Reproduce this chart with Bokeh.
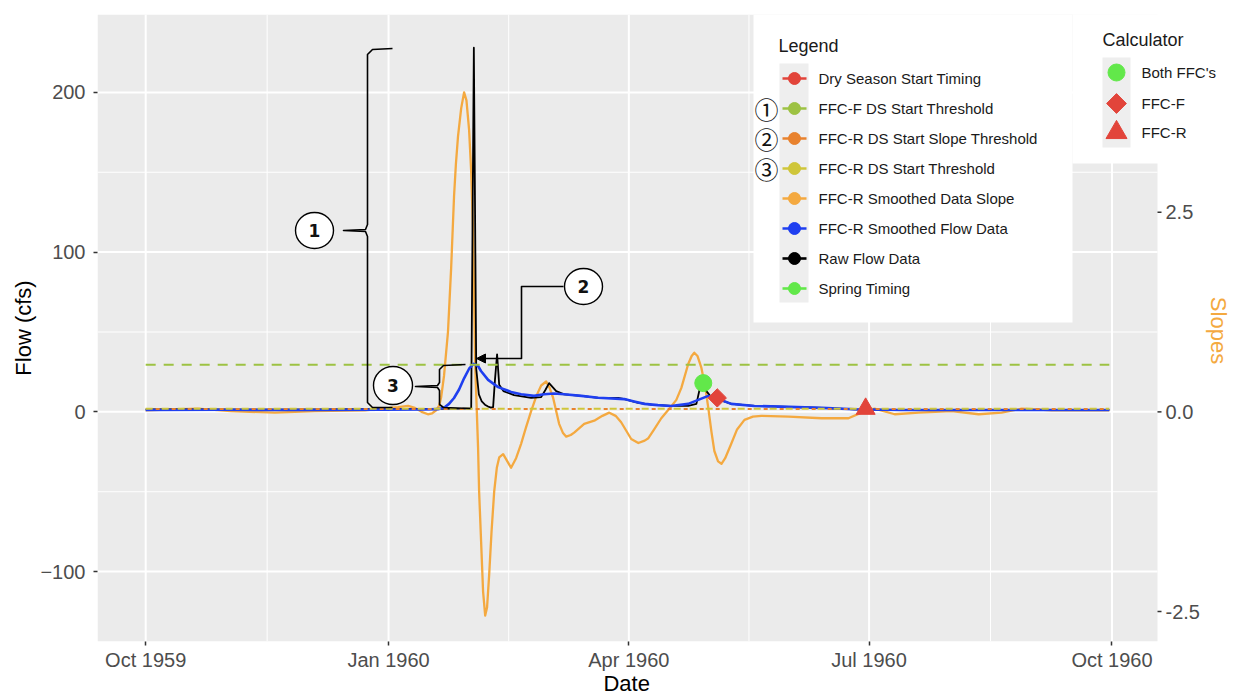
import pandas as pd
from bokeh.plotting import figure
from bokeh.models import (Range1d, FixedTicker, Label, DatetimeTickFormatter)
from bokeh.core.properties import value
from bokeh.embed import file_html
from bokeh.resources import INLINE

# ---------------- data ----------------
START = "1959-10-01"                     # day 0 of the water year
x_tick_dates = ["1959-10-01", "1960-01-01", "1960-04-01", "1960-07-01", "1960-10-01"]
x_tick_labels = ["Oct 1959", "Jan 1960", "Apr 1960", "Jul 1960", "Oct 1960"]
flow_ticks = [-100, 0, 100, 200]
flow_minor = [-50, 50, 150]
slope_ticks = [-2.5, 0.0, 2.5]

# Raw flow data (days after 1959-10-01, cfs)
raw_day = [0, 20, 45, 70, 95, 110, 120, 123.3, 124.3, 125.2, 126.2, 127.3, 128.5, 129.7,
           130.8, 131.6, 132.3, 133.1, 133.9, 135.5, 139.5, 146, 149.8, 151.5, 152.8,
           155.5, 158.5, 165, 171.4, 179, 181.3, 186.6, 191.5, 199, 205.5, 208.6, 209.8,
           211.2, 212.4, 213.8, 216, 221.8, 230.6, 243.5, 256, 268.5, 280, 310, 340, 365]
raw_flow = [1.5, 1.6, 1.4, 1.5, 1.8, 1.9, 2.0, 2.2, 228, 27, 11, 6.5, 4.5, 3.3,
            2.6, 3.0, 20, 36, 17, 13, 10.5, 8.8, 9.2, 14, 18,
            13, 11, 10, 8.8, 8.7, 8, 5.6, 4.5, 3.8, 3.7, 5, 14,
            18, 13, 10, 8.5, 5, 3.7, 3.1, 2.5, 1.6, 1.3, 1.2, 1.2, 1.2]

# FFC-R smoothed flow data
smooth_day = [0, 30, 60, 90, 105, 110.7, 113, 114.9, 116.8, 118.7, 120.6, 122.5, 124.2,
              125.9, 127, 129.7, 133.5, 138.4, 142.2, 147.1, 150.9, 154.7, 158.5, 165,
              171.4, 181.3, 185, 188.9, 194, 199, 205.5, 209.3, 213.1, 216.9, 221.8,
              230.6, 243.5, 256, 268.5, 286, 320, 365]
smooth_flow = [1.2, 1.3, 1.2, 1.4, 1.5, 1.7, 2.6, 5, 8.7, 14, 21, 27, 30,
               28.7, 25.6, 20, 15.5, 12.5, 11, 10, 11, 11.5, 11, 10,
               8.8, 8, 6.5, 5, 4.2, 3.7, 5, 7.5, 10, 8, 5,
               3.7, 3.1, 2.5, 1.6, 1.2, 1.2, 1.2]

# FFC-R smoothed data slope (secondary axis)
slope_day = [0, 19.7, 32.2, 48.9, 64.1, 83, 95.6, 99.4, 102, 104.5, 106.9, 108.5, 110,
             111.2, 111.9, 113, 114.5, 115.7, 116.8, 117.5, 118.3, 119.5, 120.6, 121.5,
             122.5, 123.3, 124, 124.8, 125.9, 126.3, 127.8, 128.6, 129.3, 130.1, 131, 132,
             133, 133.9, 135.4, 137, 138.4, 140.3, 142.2, 144, 146, 148, 149.8, 151.7, 153,
             154.3, 156.6, 158, 159.3, 161, 162.3, 166.1, 169.9, 173, 175.6, 178, 180.1,
             183.9, 186.6, 189, 190.4, 192.6, 195.3, 199.1, 201, 202.9, 205.5, 206.8,
             207.8, 209, 210.5, 212, 213.1, 214.3, 215.4, 216.8, 218.1, 219.5, 221.8,
             224, 226.8, 230, 233.2, 243.5, 256, 266.2, 271.1, 276.1, 283.7, 292.8,
             305.3, 315.5, 324.2, 331.8, 343.2, 365]
slope_val = [0.02, 0.04, 0.01, -0.01, 0.01, 0.02, 0.06, 0.075, 0.05, 0.0, -0.03, -0.02, 0.02,
             0.08, 0.18, 0.45, 1.0, 1.8, 2.7, 3.1, 3.45, 3.8, 4.0, 3.9,
             3.53, 3.0, 2.27, 0.6, -0.45, -1.0, -2.25, -2.55, -2.45, -2.04, -1.5, -1.0,
             -0.7, -0.57, -0.53, -0.62, -0.7, -0.58, -0.4, -0.2, 0.01, 0.2, 0.33, 0.38, 0.3,
             0.18, -0.15, -0.26, -0.31, -0.29, -0.26, -0.15, -0.11, -0.05, -0.01, -0.05, -0.13,
             -0.34, -0.39, -0.36, -0.33, -0.22, -0.08, 0.07, 0.15, 0.3, 0.6, 0.7,
             0.74, 0.7, 0.55, 0.3, 0.05, -0.25, -0.49, -0.62, -0.65, -0.58, -0.4,
             -0.22, -0.1, -0.06, -0.05, -0.06, -0.08, -0.08, -0.01, 0.04, -0.03, -0.01,
             0.01, -0.03, -0.01, 0.04, 0.02, 0.02]

threshold_day = [0, 365]
ffc_f_threshold = [29.5, 29.5]          # flow
ffc_r_threshold = [1.9, 1.9]            # flow
ffc_r_slope_threshold = [0.035, 0.035]  # slope

spring_day, spring_flow = [211.2], [18.0]     # Both FFC's
ffcf_day, ffcf_flow = [216.5], [8.75]         # FFC-F dry season start
ffcr_day, ffcr_flow = [272.7], [1.9]          # FFC-R dry season start

legend_labels = ["Dry Season Start Timing", "FFC-F DS Start Threshold",
                 "FFC-R DS Start Slope Threshold", "FFC-R DS Start Threshold",
                 "FFC-R Smoothed Data Slope", "FFC-R Smoothed Flow Data",
                 "Raw Flow Data", "Spring Timing"]
legend_colors = ["#E2443A", "#9DC243", "#E8822E", "#CFC63A",
                 "#F4A940", "#1F3FF0", "#000000", "#62E84A"]
calc_labels = ["Both FFC's", "FFC-F", "FFC-R"]

# ---------------- layout constants ----------------
t0 = pd.Timestamp(START)
def to_dt(days):
    return [t0 + pd.Timedelta(days=d) for d in days]

FONT = "Liberation Sans"
RED = "#E2443A"
GREEN = "#62E84A"
ORANGE = "#F4A940"
W, H = 1241, 698
FRAME_L, FRAME_T, FRAME_B = 97, 14, 641
PANEL_R = 1157                      # right edge of the grey panel
X_LO, X_HI = -18.25, 383.25         # panel x-extent in days (ggplot 5% expansion)
DAYS_PER_PX = (X_HI - X_LO) / (PANEL_R - FRAME_L)
Y0, Y1 = -143.75, 248.75
SLOPE_RATIO = 50.0

x_start = t0 + pd.Timedelta(days=X_LO)
x_end = t0 + pd.Timedelta(days=X_LO + (W - FRAME_L) * DAYS_PER_PX)
panel_end = t0 + pd.Timedelta(days=X_HI)

p = figure(width=W, height=H, x_axis_type="datetime",
           x_range=Range1d(x_start, x_end), y_range=Range1d(Y0, Y1),
           toolbar_location=None, output_backend="svg",
           min_border_left=FRAME_L, min_border_right=0, min_border_top=FRAME_T,
           min_border_bottom=H - FRAME_B)
p.extra_y_ranges = {"slope": Range1d(Y0 / SLOPE_RATIO, Y1 / SLOPE_RATIO),
                    "px": Range1d(FRAME_B, FRAME_T)}
p.extra_x_ranges = {"px": Range1d(FRAME_L, W)}
p.background_fill_color = "white"
p.border_fill_color = "white"
p.outline_line_color = None
p.grid.visible = False

PX = dict(x_range_name="px", y_range_name="px")

# ---- axes (bottom and left are Bokeh axes) ----
tick_ms = [pd.Timestamp(d).value / 1e6 for d in x_tick_dates]
xa = p.xaxis[0]
xa.ticker = FixedTicker(ticks=tick_ms)
xa.bounds = (x_start, panel_end)
fmt = "%b %Y"
xa.formatter = DatetimeTickFormatter(microseconds=fmt, milliseconds=fmt, seconds=fmt,
                                     minsec=fmt, minutes=fmt, hourmin=fmt, hours=fmt,
                                     days=fmt, months=fmt, years=fmt)
ya = p.yaxis[0]
ya.ticker = FixedTicker(ticks=flow_ticks)

for ax in (xa, ya):
    ax.axis_line_color = None
    ax.major_tick_line_color = "#333333"
    ax.major_tick_line_width = 1.5
    ax.major_tick_out = 4
    ax.major_tick_in = 0
    ax.minor_tick_line_color = None
    ax.major_label_text_font = FONT
    ax.major_label_text_font_size = "20px"
    ax.major_label_text_color = "#4D4D4D"
    ax.axis_label_text_font = FONT
    ax.axis_label_text_font_style = "normal"
    ax.axis_label_text_font_size = "22px"
    ax.axis_label_text_color = "#000000"

# the frame runs to the canvas edge, so pad the title with no-break spaces
# to centre it under the grey panel instead of under the whole frame
xa.axis_label = "Date" + "\u00a0" * 14
xa.major_label_standoff = 3
xa.axis_label_standoff = -3
ya.axis_label = "Flow (cfs)"
ya.major_label_standoff = 8
ya.axis_label_standoff = 1

# ---- grey panel and its grid ----
p.quad(left=[x_start], right=[panel_end], bottom=[Y0], top=[Y1],
       fill_color="#EBEBEB", line_color=None)
major_dates = list(pd.to_datetime(x_tick_dates))
minor_dates = [a + (b - a) / 2 for a, b in zip(major_dates[:-1], major_dates[1:])]
p.segment(x0=minor_dates, x1=minor_dates, y0=[Y0] * len(minor_dates),
          y1=[Y1] * len(minor_dates), line_color="white", line_width=1)
p.segment(x0=[x_start] * len(flow_minor), x1=[panel_end] * len(flow_minor),
          y0=flow_minor, y1=flow_minor, line_color="white", line_width=1)
p.segment(x0=major_dates, x1=major_dates, y0=[Y0] * len(major_dates),
          y1=[Y1] * len(major_dates), line_color="white", line_width=2)
p.segment(x0=[x_start] * len(flow_ticks), x1=[panel_end] * len(flow_ticks),
          y0=flow_ticks, y1=flow_ticks, line_color="white", line_width=2)

# ---- secondary (slope) axis at the panel's right edge ----
p.segment(x0=[PANEL_R] * len(slope_ticks), x1=[PANEL_R + 4] * len(slope_ticks),
          y0=slope_ticks, y1=slope_ticks, line_color="#333333", line_width=1.5,
          x_range_name="px", y_range_name="slope")
p.text(x=[PANEL_R + 8] * len(slope_ticks), y=slope_ticks,
       text=["%.1f" % v for v in slope_ticks], x_range_name="px", y_range_name="slope",
       text_font=value(FONT), text_font_size=value("20px"), text_color="#4D4D4D",
       text_align="left", text_baseline="middle")
p.add_layout(Label(x=1218, y=330, text="Slopes", angle=-1.5707963, text_align="center",
                   text_baseline="middle", text_font=FONT, text_font_size="22px",
                   text_color=ORANGE, **PX))

# ---- data lines ----
p.line(to_dt(slope_day), slope_val, y_range_name="slope", line_color=ORANGE,
       line_width=2.3, line_join="round")
p.line(to_dt(raw_day), raw_flow, line_color="black", line_width=1.8, line_join="round")
p.line(to_dt(smooth_day), smooth_flow, line_color="#1F3FF0", line_width=2.6,
       line_join="round")
p.line(to_dt(threshold_day), ffc_f_threshold, line_color="#9DC243", line_width=2,
       line_dash="10 8")
p.line(to_dt(threshold_day), ffc_r_threshold, line_color="#CFC63A", line_width=2,
       line_dash="7 9")
p.line(to_dt(threshold_day), ffc_r_slope_threshold, y_range_name="slope",
       line_color="#E8822E", line_width=2, line_dash="4 12", line_dash_offset=-10)

# ---- timing points ----
p.scatter(to_dt(spring_day), spring_flow, marker="circle", size=17, color=GREEN)
p.scatter(to_dt(ffcf_day), ffcf_flow, marker="square", angle=0.785398, size=13, color=RED)
p.scatter(to_dt(ffcr_day), ffcr_flow, marker="triangle", size=19, color=RED)

# ---------------- annotations (screen-pixel geometry) ----------------
ann = dict(line_color="black", line_width=1.6, line_join="round")
# brace 1
p.line([392, 372, 367, 367, 365, 343, 365, 367, 367, 372, 392],
       [48, 49, 54, 224, 229, 230, 231, 236, 402, 407, 407], **ann, **PX)
# brace 3
p.line([465, 443, 439, 439, 437, 415, 437, 439, 439, 443, 470],
       [364, 365, 369, 382, 385, 386, 387, 390, 404, 407, 408], **ann, **PX)
# connector 2 with arrow
p.line([563, 521, 521, 484], [286, 286, 358, 358], **ann, **PX)
p.patch([476, 485, 485], [358, 353.5, 362.5], fill_color="black", line_color="black", **PX)
# numbered circles
p.ellipse(x=[314, 583, 392.5], y=[230, 286, 385], width=[38, 38, 39], height=[36, 36, 38],
          fill_color="white", line_color="black", line_width=1.4, **PX)
for n, (cx, cy) in zip(["1", "2", "3"], [(314, 230), (583, 286), (392.5, 385)]):
    p.add_layout(Label(x=cx, y=cy, text=n, text_align="center", text_baseline="middle",
                       text_font="DejaVu Sans", text_font_size="17px",
                       text_font_style="bold", text_color="#111111", **PX))

# ---------------- legend boxes ----------------
p.quad(left=753, right=1072, top=14, bottom=322, fill_color="white", line_color=None, **PX)
p.quad(left=1072, right=1241, top=0, bottom=163, fill_color="white", line_color=None, **PX)
p.quad(left=779, right=808, top=63, bottom=302, fill_color="#EEEEEE", line_color=None, **PX)
p.quad(left=1102, right=1130, top=57, bottom=147, fill_color="#EEEEEE", line_color=None, **PX)

item_y = [78 + 30 * i for i in range(len(legend_labels))]
p.segment(x0=[782] * len(item_y), y0=item_y, x1=[806] * len(item_y), y1=item_y,
          line_color=legend_colors, line_width=2.6, **PX)
p.scatter(x=[794] * len(item_y), y=item_y, size=12, color=legend_colors, **PX)

p.add_layout(Label(x=778, y=45, text="Legend", text_baseline="middle",
                   text_font=FONT, text_font_size="18px", text_color="#1A1A1A", **PX))
for lab, yy in zip(legend_labels, item_y):
    p.add_layout(Label(x=818, y=yy, text=lab, text_baseline="middle",
                       text_font=FONT, text_font_size="15px", text_color="#1A1A1A", **PX))
for sym, yy in zip(["①", "②", "③"], item_y[1:4]):
    p.add_layout(Label(x=766, y=yy, text=sym, text_align="center", text_baseline="middle",
                       text_font="Noto Sans CJK JP", text_font_size="24px",
                       text_color="#111111", **PX))

calc_y = [72, 103, 132]
p.scatter(x=[1116], y=[calc_y[0]], marker="circle", size=17, color=GREEN, **PX)
p.scatter(x=[1116], y=[calc_y[1]], marker="square", angle=0.785398, size=14, color=RED, **PX)
p.scatter(x=[1116], y=[calc_y[2]], marker="triangle", size=21, color=RED, **PX)
p.add_layout(Label(x=1102, y=39, text="Calculator", text_baseline="middle",
                   text_font=FONT, text_font_size="18px", text_color="#1A1A1A", **PX))
for lab, yy in zip(calc_labels, calc_y):
    p.add_layout(Label(x=1141, y=yy, text=lab, text_baseline="middle",
                       text_font=FONT, text_font_size="15px", text_color="#1A1A1A", **PX))

open("out.html", "w").write(file_html(p, INLINE))
